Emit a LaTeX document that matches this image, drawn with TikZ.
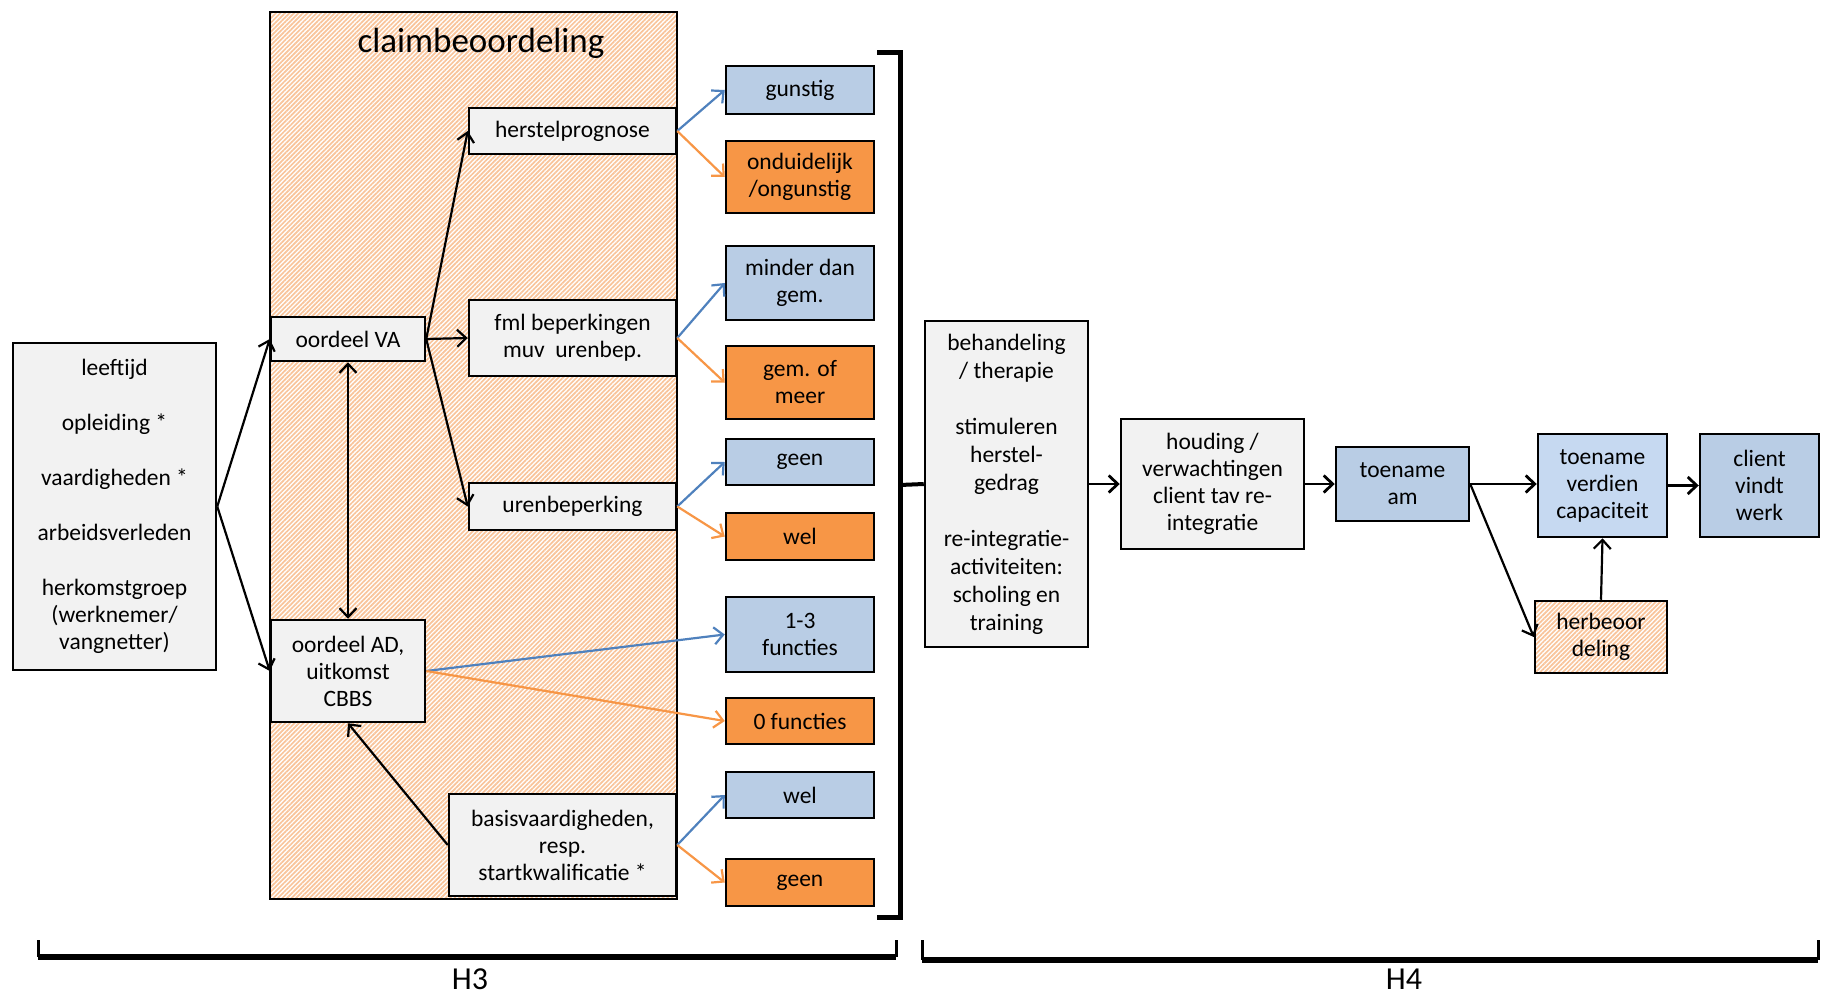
\documentclass[tikz,border=0pt]{standalone}
\usepackage{fontspec}
\setmainfont{Carlito}
\usetikzlibrary{arrows.meta,patterns.meta}
\definecolor{boxgray}{HTML}{F2F2F2}
\definecolor{boxblue}{HTML}{B9CDE5}
\definecolor{boxbluelight}{HTML}{C6D9F1}
\definecolor{boxorange}{HTML}{F79646}
\definecolor{arrblue}{HTML}{4F81BD}
\definecolor{arrorange}{HTML}{F79646}
\definecolor{hatchcol}{HTML}{F9C49A}
\begin{document}
\begin{tikzpicture}[x=1pt,y=-1pt,
  txt/.style={font=\fontsize{23.5}{27}\selectfont},
  box/.style={txt, draw=black, line width=2.5pt, inner sep=2pt, align=center},
  gbox/.style={box, fill=boxgray},
  bbox/.style={box, fill=boxblue},
  obox/.style={box, fill=boxorange},
  hatched/.style={preaction={fill=white}, pattern={Lines[angle=45,distance=3.2pt,line width=1.7pt]}, pattern color=hatchcol},
  arr/.style={-{Straight Barb[length=9pt,width=17pt]}, line width=2.2pt},
  barr/.style={arr, draw=arrblue},
  oarr/.style={arr, draw=arrorange},
  brk/.style={line width=5pt, line join=miter},
  hlabel/.style={font=\fontsize{32}{36}\selectfont, inner sep=0pt},
]
\useasboundingbox (0,0) rectangle (1825,995);

% claim frame
\node[draw=black, line width=2.5pt, hatched, minimum width=407pt, minimum height=887pt, inner sep=0pt] (claim) at (473.5,455.5) {};
\node[font=\fontsize{35}{40}\selectfont] (title) at (481,43) {claimbeoordeling};

% left box
\node[gbox, minimum width=203pt, minimum height=327pt] (left) at (114.5,506.5)
  {leeftijd\\[28pt]opleiding *\\[28pt]vaardigheden *\\[28pt]arbeidsverleden\\[28pt]herkomstgroep\\(werknemer/\\vangnetter)};

% inner nodes
\node[gbox, minimum width=154pt, minimum height=44pt] (va) at (348,339) {oordeel VA};
\node[gbox, minimum width=154pt, minimum height=102pt] (ad) at (348,671) {oordeel AD,\\uitkomst\\CBBS};
\node[gbox, minimum width=207pt, minimum height=46pt] (herst) at (572.5,131) {herstelprognose};
\node[gbox, minimum width=207pt, minimum height=76pt] (fml) at (572.5,338) {fml beperkingen\\muv~~urenbep.};
\node[gbox, minimum width=207pt, minimum height=47pt] (uren) at (572.5,506.5) {urenbeperking};
\node[gbox, minimum width=227pt, minimum height=102pt] (basis) at (562.5,845) {basisvaardigheden,\\resp.\\startkwalificatie *};

% result nodes
\node[bbox, minimum width=148pt, minimum height=48pt] (gunstig) at (800,90) {gunstig};
\node[obox, minimum width=148pt, minimum height=72pt] (ondu) at (800,177) {onduidelijk\\/ongunstig};
\node[bbox, minimum width=148pt, minimum height=74pt] (minder) at (800,283) {minder dan\\gem.};
\node[obox, minimum width=148pt, minimum height=73pt] (gemmeer) at (800,382.5) {gem. of\\meer};
\node[bbox, minimum width=148pt, minimum height=46pt] (geenA) at (800,462) {geen};
\node[obox, minimum width=148pt, minimum height=47pt] (welA) at (800,536.5) {wel};
\node[bbox, minimum width=148pt, minimum height=75pt] (f13) at (800,634.5) {1-3\\functies};
\node[obox, minimum width=148pt, minimum height=46pt] (f0) at (800,721) {0 functies};
\node[bbox, minimum width=148pt, minimum height=46pt] (welB) at (800,795) {wel};
\node[obox, minimum width=148pt, minimum height=47pt] (geenB) at (800,882.5) {geen};

% H4 part
\node[gbox, minimum width=163pt, minimum height=326pt, font=\fontsize{23.5}{28}\selectfont] (behand) at (1006.5,484)
  {behandeling\\/ therapie\\[28pt]stimuleren\\herstel-\\gedrag\\[28pt]re-integratie-\\activiteiten:\\scholing en\\training};
\node[gbox, minimum width=183pt, minimum height=130pt] (houding) at (1212.5,484) {houding /\\verwachtingen\\client tav re-\\integratie};
\node[bbox, minimum width=133pt, minimum height=74pt] (tam) at (1402.5,484) {toename\\am};
\node[box, fill=boxbluelight, minimum width=129pt, minimum height=103pt] (tvc) at (1602.5,485.5) {toename\\verdien\\capaciteit};
\node[bbox, minimum width=119pt, minimum height=103pt] (client) at (1759.5,485.5) {client\\vindt\\werk};
\node[box, hatched, minimum width=132pt, minimum height=72pt] (herb) at (1601,637) {herbeoor\\deling};

% black arrows
\draw[arr] (left.east) -- (va.west);
\draw[arr] (left.east) -- (ad.west);
\draw[arr] (va.east) -- (herst.west);
\draw[arr] (va.east) -- (fml.west);
\draw[arr] (va.east) -- (uren.west);
\draw[arr, {Straight Barb[length=9pt,width=17pt]}-{Straight Barb[length=9pt,width=17pt]}] (va.south) -- (ad.north);
\draw[arr] (basis.west) -- (ad.south);

% coloured arrows
\draw[barr] (herst.east) -- (gunstig.west);
\draw[oarr] (herst.east) -- (ondu.west);
\draw[barr] (fml.east) -- (minder.west);
\draw[oarr] (fml.east) -- (gemmeer.west);
\draw[barr] (uren.east) -- (geenA.west);
\draw[oarr] (uren.east) -- (welA.west);
\draw[barr] (ad.east) -- (f13.west);
\draw[oarr] (ad.east) -- (f0.west);
\draw[barr] (basis.east) -- (welB.west);
\draw[oarr] (basis.east) -- (geenB.west);

% right bracket
\coordinate (brtopL) at (877,53);
\coordinate (brtop) at (900,53);
\coordinate (brbot) at (900,917);
\coordinate (brbotL) at (877,917);
\coordinate (brmid) at (900,485);
\draw[brk] (brtopL) -- (brtop) -- (brbot) -- (brbotL);
\draw[line width=4pt] (brmid) -- (behand.west);

% H4 chain
\draw[arr, line width=2.8pt] (behand.east) -- (houding.west);
\draw[arr, line width=2.8pt] (houding.east) -- (tam.west);
\draw[arr, line width=2.8pt] (tam.east) -- (tvc.west |- tam.east);
\draw[arr, line width=2.8pt] (tvc.east) -- (client.west);
\draw[arr] (tam.east) -- (herb.west);
\draw[arr] (herb.north) -- (tvc.south);

% bottom brackets
\coordinate (hA1) at (38,940);
\coordinate (hA2) at (38,957);
\coordinate (hA3) at (896,957);
\coordinate (hA4) at (896,940);
\draw[line width=3pt] (hA1) -- (hA2);
\draw[line width=3pt] (hA3) -- (hA4);
\draw[line width=6pt] (hA2) -- (hA3);
\coordinate (hB1) at (922,940);
\coordinate (hB2) at (922,960);
\coordinate (hB3) at (1818,960);
\coordinate (hB4) at (1818,940);
\draw[line width=3pt] (hB1) -- (hB2);
\draw[line width=3pt] (hB3) -- (hB4);
\draw[line width=6pt] (hB2) -- (hB3);
\node[hlabel] (h3) at (470,979) {H3};
\node[hlabel] (h4) at (1404,979) {H4};
\end{tikzpicture}
\end{document}
